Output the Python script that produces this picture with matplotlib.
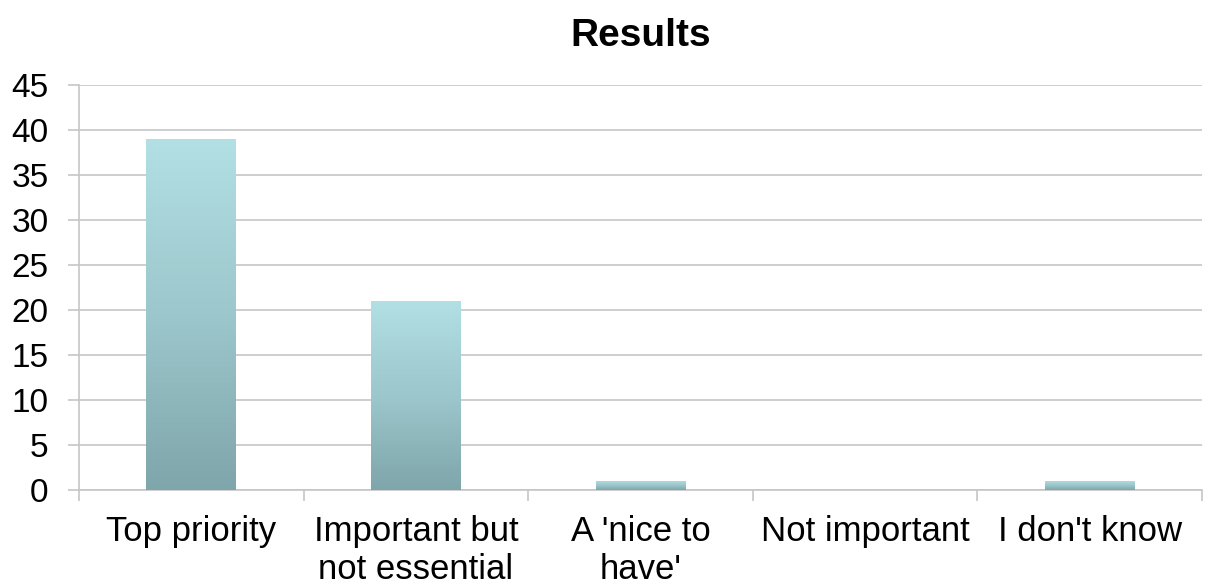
import numpy as np
import matplotlib

matplotlib.use("Agg")
import matplotlib.pyplot as plt
from matplotlib.colors import LinearSegmentedColormap

plt.rcParams["font.family"] = ["Liberation Sans", "DejaVu Sans"]

categories = ["Top priority", "Important but\nnot essential", "A 'nice to\nhave'",
              "Not important", "I don't know"]
counts = [39, 21, 1, 0, 1]
y_ticks = list(range(0, 50, 5))

grid_grey = "#c6c6c6"
bar_cmap = LinearSegmentedColormap.from_list("teal", ["#7fa6aa", "#9cc7cc", "#b2e0e4"])

fig = plt.figure(figsize=(12.05, 5.86), dpi=100)
ax = fig.add_axes([0.0656, 0.1638, 0.932, 0.6912])

x = np.arange(len(categories))
bars = ax.bar(x, counts, width=0.4, color="none", edgecolor="none", zorder=3)

# vertical gradient fill, clipped to each bar
grad = np.linspace(0, 1, 256).reshape(-1, 1)
for b in bars:
    h = b.get_height()
    if h <= 0:
        continue
    x0 = b.get_x()
    im = ax.imshow(grad, cmap=bar_cmap, origin="lower", aspect="auto",
                   extent=[x0, x0 + b.get_width(), 0, h], zorder=3)
    im.set_clip_path(b)

ax.set_xlim(-0.5, len(categories) - 0.5)
ax.set_ylim(0, 45)
ax.set_yticks(y_ticks)
ax.yaxis.grid(True, color=grid_grey, linewidth=1.2, zorder=0)
ax.set_axisbelow(True)

ax.set_xticks(x)
ax.set_xticklabels(categories, fontsize=25, linespacing=1.2)
ax.set_xticks(np.arange(len(categories) + 1) - 0.5, minor=True)
ax.tick_params(axis="x", which="major", length=0, pad=18)
ax.tick_params(axis="x", which="minor", length=8, color=grid_grey, width=1.2)
ax.tick_params(axis="y", labelsize=24, length=8, color=grid_grey, width=1.2, pad=14)

for side in ("top", "right"):
    ax.spines[side].set_visible(False)
for side in ("left", "bottom"):
    ax.spines[side].set_color(grid_grey)
    ax.spines[side].set_linewidth(1.2)

ax.set_title("Results", fontsize=28, fontweight="bold", pad=28)

fig.savefig("out.png", dpi=100)
